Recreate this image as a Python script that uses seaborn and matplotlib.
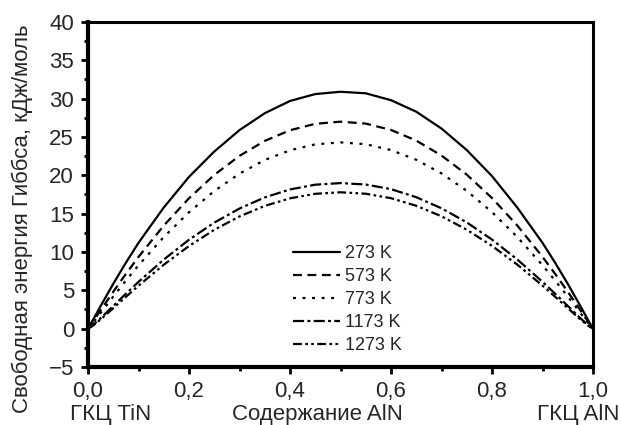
import matplotlib
matplotlib.use("Agg")
import matplotlib.pyplot as plt
import matplotlib.ticker as mticker
import seaborn as sns
import pandas as pd

# ---- data ----
x_vals = [0, 0.01, 0.025, 0.05, 0.075, 0.1, 0.15, 0.2, 0.25, 0.3, 0.35, 0.4, 0.45, 0.5,
          0.55, 0.6, 0.65, 0.7, 0.75, 0.8, 0.85, 0.9, 0.925, 0.95, 0.975, 0.99, 1.0]
g_273 = [0, 1.16, 2.95, 5.85, 8.6, 11.2, 15.8, 19.8, 23.1, 25.9, 28.1, 29.7, 30.6, 30.9,
         30.7, 29.8, 28.3, 26.1, 23.3, 19.9, 15.8, 11.2, 8.6, 5.85, 2.95, 1.16, 0]
g_573 = [0, 0.93, 2.40, 4.81, 7.14, 9.36, 13.44, 17.01, 20.05, 22.54, 24.49, 25.88, 26.72, 27.0,
         26.75, 25.92, 24.53, 22.58, 20.09, 17.04, 13.46, 9.37, 7.15, 4.82, 2.40, 0.93, 0]
g_773 = [0, 0.78, 2.05, 4.19, 6.27, 8.26, 11.95, 15.18, 17.95, 20.22, 22.0, 23.27, 24.04, 24.3,
         24.06, 23.3, 22.03, 20.25, 17.98, 15.2, 11.97, 8.27, 6.28, 4.2, 2.05, 0.78, 0]
g_1173 = [0, 0.47, 1.37, 2.96, 4.55, 6.10, 9.01, 11.60, 13.83, 15.67, 17.12, 18.16, 18.78, 18.99,
          18.8, 18.2, 17.15, 15.7, 13.86, 11.62, 9.03, 6.11, 4.56, 2.97, 1.37, 0.47, 0]
g_1273 = [0, 0.40, 1.21, 2.67, 4.15, 5.60, 8.34, 10.78, 12.89, 14.64, 16.01, 17.00, 17.59, 17.79,
          17.6, 17.02, 16.03, 14.66, 12.91, 10.8, 8.36, 5.61, 4.16, 2.68, 1.21, 0.40, 0]
temps = ["273 K", "573 K", "773 K", "1173 K", "1273 K"]
x_ticks = [0.0, 0.2, 0.4, 0.6, 0.8, 1.0]
y_ticks = [-5, 0, 5, 10, 15, 20, 25, 30, 35, 40]

series = [g_273, g_573, g_773, g_1173, g_1273]
df = pd.concat([pd.DataFrame({"x": x_vals, "G": s, "T": t}) for s, t in zip(series, temps)],
               ignore_index=True)

sns.set_theme(style="ticks")
plt.rcParams["font.family"] = ["Liberation Sans", "DejaVu Sans"]
plt.rcParams["axes.unicode_minus"] = True

FS = 16
fig = plt.figure(figsize=(6.21, 4.25), dpi=100)
ax = fig.add_axes([88 / 621, 1 - 367 / 425, (593 - 88) / 621, (367 - 22) / 425])

dash_map = {
    "273 K": "",
    "573 K": (4, 2.5),
    "773 K": (1.3, 3.0),
    "1173 K": (5, 1.5, 1.3, 1.5),
    "1273 K": (4, 1.5, 1.2, 1.5, 1.2, 1.5),
}
sns.lineplot(data=df, x="x", y="G", style="T", style_order=temps, dashes=dash_map,
             color="black", linewidth=1.6, legend=False, ax=ax, sort=False)

ax.set_xlim(0, 1)
ax.set_ylim(-5, 40)
ax.set_xticks(x_ticks)
ax.set_yticks(y_ticks)
ax.xaxis.set_minor_locator(mticker.MultipleLocator(0.1))
ax.yaxis.set_minor_locator(mticker.MultipleLocator(2.5))
ax.xaxis.set_major_formatter(mticker.FuncFormatter(lambda v, p: f"{v:.1f}".replace(".", ",")))
ax.yaxis.set_major_formatter(mticker.FuncFormatter(lambda v, p: f"{int(round(v))}".replace("-", "\u2212")))
ax.tick_params(which="major", direction="out", length=5, width=2, labelsize=FS, pad=5, color="black")
ax.tick_params(which="minor", direction="out", length=3, width=2, color="black")
ax.set_xlabel("")
ax.set_ylabel("")
for side, lw in [("left", 3.0), ("bottom", 3.0), ("top", 2.2), ("right", 2.2)]:
    ax.spines[side].set_visible(True)
    ax.spines[side].set_linewidth(lw)
    ax.spines[side].set_color("black")

handles = ax.lines[:5]
ax.legend(handles, temps, loc="upper left", bbox_to_anchor=(293 / 621, 1 - 245 / 425),
          bbox_transform=fig.transFigure, frameon=False, fontsize=13,
          handlelength=2.6, handletextpad=0.28, labelspacing=0.33, borderpad=0, borderaxespad=0)

fig.text(70 / 621, 1 - 420 / 425, "ГКЦ TiN", ha="left", va="baseline", fontsize=FS)
fig.text(232 / 621, 1 - 420 / 425, "Содержание AlN", ha="left", va="baseline", fontsize=FS)
fig.text(537 / 621, 1 - 420 / 425, "ГКЦ AlN", ha="left", va="baseline", fontsize=FS)
fig.text(22 / 621, 1 - 219 / 425, "Свободная энергия Гиббса, кДж/моль", rotation=90,
         ha="center", va="center", fontsize=FS)

fig.savefig("out.png", dpi=100)
